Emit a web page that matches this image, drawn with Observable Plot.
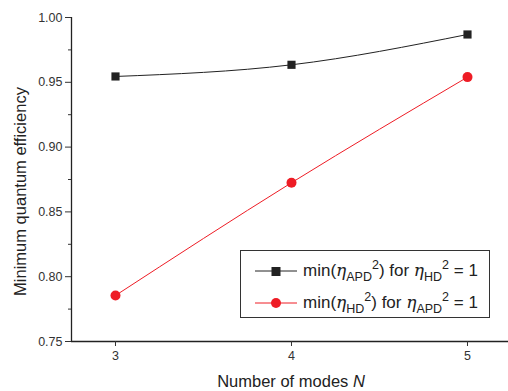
<!DOCTYPE html>
<html>
<head>
<meta charset="utf-8">
<script src="https://cdn.jsdelivr.net/npm/d3@7"></script>
<script src="https://cdn.jsdelivr.net/npm/@observablehq/plot@0.6"></script>
<style>
  html, body { margin: 0; padding: 0; background: #fff; }
  #wrap { position: relative; width: 508px; height: 391px; font-family: "Liberation Sans", Arial, sans-serif; }
  #legend { position: absolute; left: 240px; top: 250px; width: 248px; height: 66px; border: 1px solid #333; background: #fff; color: #222; font-size: 17px; }
  .row { position: absolute; left: 14px; height: 24px; display: flex; align-items: center; white-space: nowrap; }
  .row svg { margin-right: 6px; }
  .row sub, .row sup { font-size: 12.5px; }
  .row sub { vertical-align: -5px; }
  .row sup { vertical-align: 7px; }
  i { font-family: "DejaVu Serif", serif; font-size: 17px; }
</style>
</head>
<body>
<div id="wrap"></div>
<script>
const modes = [3, 4, 5];
const apdMin = [0.9545, 0.9635, 0.9869];   // min(eta_APD^2) for eta_HD^2 = 1
const hdMin = [0.7855, 0.8725, 0.9540];    // min(eta_HD^2) for eta_APD^2 = 1
const yTicks = [0.75, 0.80, 0.85, 0.90, 0.95, 1.00];
const yMinor = [0.775, 0.825, 0.875, 0.925, 0.975];
const xTicks = [3, 4, 5];
const xLabel = "Number of modes ";
const yLabel = "Minimum quantum efficiency";

const black = "#222222";
const red = "#ee1c25";

const apd = modes.map((n, i) => ({n, v: apdMin[i]}));
const hd = modes.map((n, i) => ({n, v: hdMin[i]}));

const chart = Plot.plot({
  width: 508,
  height: 391,
  marginLeft: 71,
  marginRight: 0,
  marginTop: 17,
  marginBottom: 50,
  style: {fontFamily: "'Liberation Sans', Arial, sans-serif", background: "#fff", overflow: "visible"},
  x: {domain: [2.75, 5.233]},
  y: {domain: [0.75, 1.0]},
  marks: [
    Plot.ruleX([2.75], {stroke: "#222", strokeWidth: 1.3}),
    Plot.ruleY([0.75], {stroke: "#222", strokeWidth: 1.3}),
    Plot.axisY({ticks: yTicks, tickFormat: d3.format(".2f"), tickSize: 6, tickPadding: 3, fontSize: 12.5, color: "#333", label: null}),
    Plot.axisY({ticks: yMinor, tickSize: 3, text: null, label: null, color: "#333"}),
    Plot.axisX({ticks: xTicks, tickFormat: d3.format("d"), tickSize: 5, tickPadding: 5, fontSize: 12.5, color: "#333", label: null}),
    Plot.line(apd, {x: "n", y: "v", stroke: black, strokeWidth: 1, curve: "natural"}),
    Plot.line(hd, {x: "n", y: "v", stroke: red, strokeWidth: 1, curve: "natural"}),
    Plot.dot(apd, {x: "n", y: "v", symbol: "square", r: 4.6, fill: black, stroke: "none"}),
    Plot.dot(hd, {x: "n", y: "v", symbol: "circle", r: 5, fill: red, stroke: "none"}),
    Plot.text([yLabel], {frameAnchor: "left", textAnchor: "middle", dx: -51, dy: 12, rotate: -90, fontSize: 16.5, fill: "#222"}),
  ]
});

const wrap = document.getElementById("wrap");
wrap.appendChild(chart);

// x-axis title with italic N
const svg = d3.select(chart);
const xt = svg.append("text")
  .attr("x", 291).attr("y", 387)
  .attr("text-anchor", "middle")
  .attr("font-size", 16.5).attr("fill", "#222")
  .attr("font-family", "'Liberation Sans', Arial, sans-serif");
xt.append("tspan").text(xLabel);
xt.append("tspan").attr("font-style", "italic").text("N");

const legend = document.createElement("div");
legend.id = "legend";
legend.innerHTML = `
  <div class="row" style="top:8px">
    <svg width="42" height="12"><line x1="0" y1="6" x2="42" y2="6" stroke="${black}" stroke-width="1"/><rect x="16.5" y="2" width="9" height="9" fill="${black}"/></svg>
    <span>min(<i>η</i><sub>APD</sub><sup>2</sup>) for <i>η</i><sub>HD</sub><sup>2</sup> = 1</span>
  </div>
  <div class="row" style="top:40px">
    <svg width="42" height="12"><line x1="0" y1="6" x2="42" y2="6" stroke="${red}" stroke-width="1"/><circle cx="21" cy="6" r="5" fill="${red}"/></svg>
    <span>min(<i>η</i><sub>HD</sub><sup>2</sup>) for <i>η</i><sub>APD</sub><sup>2</sup> = 1</span>
  </div>`;
wrap.appendChild(legend);
</script>
</body>
</html>
